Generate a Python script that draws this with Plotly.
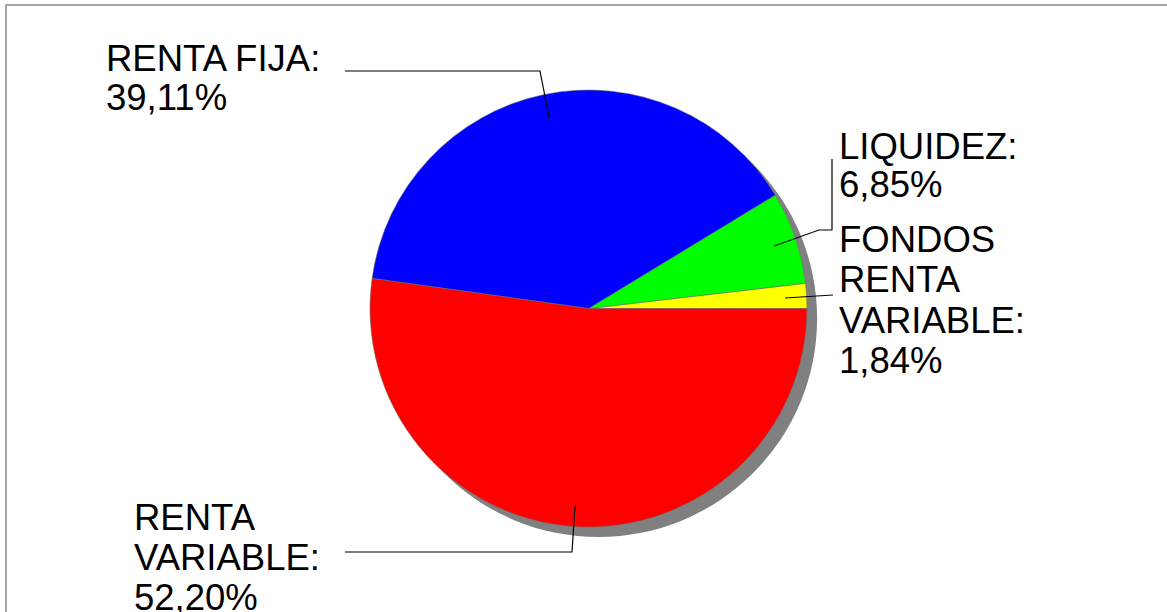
import plotly.graph_objects as go

W, H = 1167, 612

# ---- data ----
labels = ["FONDOS RENTA VARIABLE", "LIQUIDEZ", "RENTA FIJA", "RENTA VARIABLE"]
values = [1.84, 6.85, 39.11, 52.20]
colors = ["#FFFF00", "#00FF00", "#0000FF", "#FF0000"]
label_lines = [["FONDOS", "RENTA", "VARIABLE:"], ["LIQUIDEZ:"], ["RENTA FIJA:"], ["RENTA", "VARIABLE:"]]

# ---- layout helpers (pixel -> paper) ----
def px(x):
    return x / W

def py(y):
    return 1 - y / H

cx, cy, r = 588.5, 308.5, 218.5
sh = 10  # shadow offset

# first slice begins at 3 o'clock and runs counterclockwise
rot = 90 - values[0] / sum(values) * 360

fig = go.Figure()

# shadow
fig.add_trace(go.Pie(
    values=[sum(values)], labels=["shadow"], sort=False,
    marker=dict(colors=["#808080"], line=dict(width=0)),
    textinfo="none", hoverinfo="skip", showlegend=False,
    domain=dict(x=[px(cx - r + sh), px(cx + r + sh)], y=[py(cy + r + sh), py(cy - r + sh)]),
))

# main pie
fig.add_trace(go.Pie(
    values=values, labels=labels, sort=False, direction="counterclockwise", rotation=rot,
    marker=dict(colors=colors, line=dict(color="rgba(110,110,110,0.7)", width=0.8)),
    textinfo="none", hoverinfo="label+percent", showlegend=False,
    domain=dict(x=[px(cx - r), px(cx + r)], y=[py(cy + r), py(cy - r)]),
))

def fmt(v):
    return f"{v:.2f}".replace(".", ",") + "%"

# label positions: (left x, first line center y, line spacing)
label_pos = {
    0: (837, 240, 40),
    1: (837, 146, 38),
    2: (104, 58, 39),
    3: (132, 517, 40),
}

annotations = []
for i, lines in enumerate(label_lines):
    x0, y0, dy = label_pos[i]
    all_lines = lines + [fmt(values[i])]
    for k, t in enumerate(all_lines):
        annotations.append(dict(
            x=px(x0), y=py(y0 + k * dy), xref="paper", yref="paper",
            text=t, showarrow=False, xanchor="left", yanchor="middle",
            font=dict(family="Liberation Sans, Arial, sans-serif", size=36.5, color="#000000"),
        ))

def path(pts):
    return "M " + " L ".join(f"{px(x)},{py(y)}" for x, y in pts)

leaders = [
    [(785, 298), (833, 295)],
    [(774, 246), (819, 230), (832, 230), (832, 159)],
    [(345, 71), (540, 71), (549, 117)],
    [(345, 552), (572, 552), (575, 506)],
]

shapes = [dict(type="rect", xref="paper", yref="paper",
               x0=px(6), y0=py(5), x1=px(1300), y1=py(800),
               line=dict(color="#8a8a8a", width=1.5), layer="below")]
for pts in leaders:
    shapes.append(dict(type="path", xref="paper", yref="paper", path=path(pts),
                       line=dict(color="#000000", width=1.2)))

fig.update_layout(
    width=W, height=H,
    margin=dict(l=0, r=0, t=0, b=0),
    paper_bgcolor="#FFFFFF", plot_bgcolor="#FFFFFF",
    annotations=annotations, shapes=shapes,
    showlegend=False,
)

fig.write_html("out.html", config={"displayModeBar": False},
               post_script="document.body.style.margin='0';document.body.style.overflow='hidden';")
